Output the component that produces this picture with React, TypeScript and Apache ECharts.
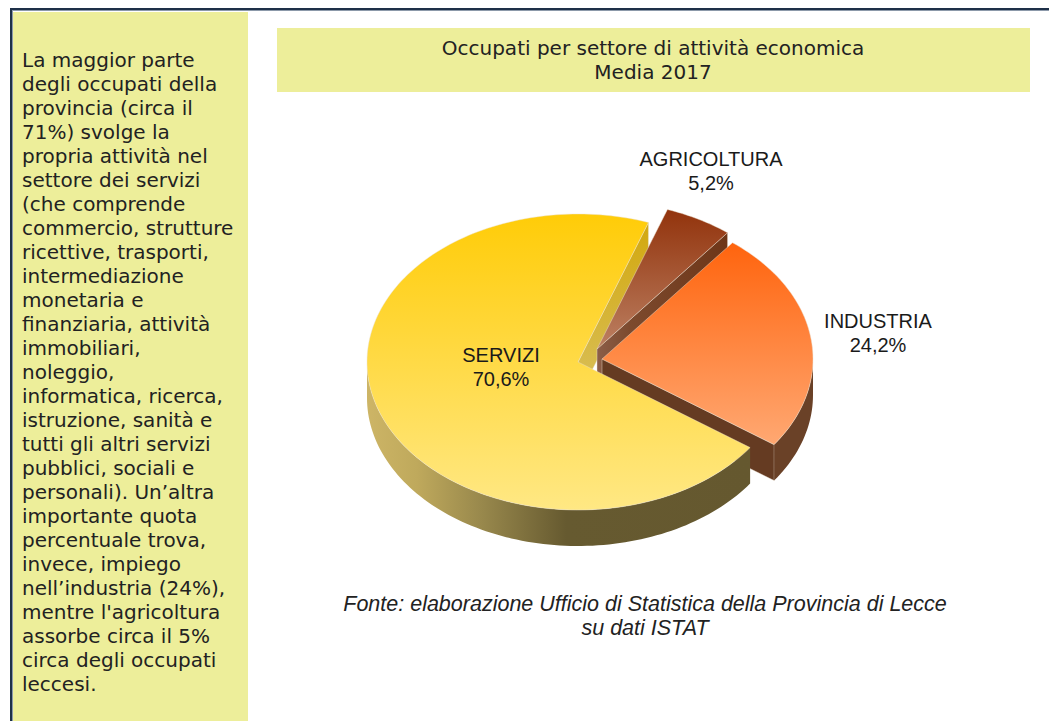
import React, { useEffect, useRef } from "react";
import * as echarts from "echarts";

const categories = ["AGRICOLTURA", "INDUSTRIA", "SERVIZI"];
const shares = [5.2, 24.2, 70.6];
const titleLines = ["Occupati per settore di attività economica", "Media 2017"];
const sourceLines = ["Fonte: elaborazione Ufficio di Statistica della Provincia di Lecce", "su dati ISTAT"];
const sideLines = [
  "La maggior parte", "degli occupati della", "provincia (circa il", "71%) svolge la",
  "propria attività nel", "settore dei servizi", "(che comprende", "commercio, strutture",
  "ricettive, trasporti,", "intermediazione", "monetaria e", "finanziaria, attività",
  "immobiliari,", "noleggio,", "informatica, ricerca,", "istruzione, sanità e",
  "tutti gli altri servizi", "pubblici, sociali e", "personali). Un’altra", "importante quota",
  "percentuale trova,", "invece, impiego", "nell’industria (24%),", "mentre l'agricoltura",
  "assorbe circa il 5%", "circa degli occupati", "leccesi.",
];

const W = 1049, H = 721;
const CX = 578, CY = 362, RX = 211, RY = 148, DEPTH = 36, START = 70.5;
const OFFSETS = [[19, -13], [24, -3], [0, 0]];
const LABEL_POS = [[711, 171], [878, 333], [501, 367]];
const PANEL = "#EDEE9A";
const SIDE_FONT = "DejaVu Sans";
const SANS = "Liberation Sans";

// slices run clockwise from START; angles are parametric on the ellipse
const total = shares.reduce((a, b) => a + b, 0);
const ranges: number[][] = [];
{
  let hi = START;
  shares.forEach((v) => {
    const lo = hi - (v / total) * 360;
    ranges.push([lo, hi]);
    hi = lo;
  });
}
const pt = (i: number, deg: number, dy = 0) => {
  const r = (deg * Math.PI) / 180;
  return [CX + OFFSETS[i][0] + RX * Math.cos(r), CY + OFFSETS[i][1] - RY * Math.sin(r) + dy];
};
const apex = (i: number, dy = 0) => [CX + OFFSETS[i][0], CY + OFFSETS[i][1] + dy];
const arc = (i: number, a: number, b: number, dy = 0) => {
  const n = Math.max(2, Math.ceil(Math.abs(b - a) / 1.5));
  const out: number[][] = [];
  for (let k = 0; k <= n; k++) out.push(pt(i, a + ((b - a) * k) / n, dy));
  return out;
};
const vGrad = (stops: string[]) =>
  new echarts.graphic.LinearGradient(0, 0, 0, 1, stops.map((color, i) => ({ offset: i / (stops.length - 1), color })));
const hGrad = (stops: [number, string][]) =>
  new echarts.graphic.LinearGradient(0, 0, 1, 0, stops.map(([offset, color]) => ({ offset, color })));

const TOP_FILLS = [["#92330C", "#BC8062"], ["#FF640E", "#FFA872"], ["#FFCC08", "#FFE884"]];
const EDGE = "rgba(235,225,210,0.55)";

const topFace = (i: number) => ({
  points: [apex(i), ...arc(i, ranges[i][1], ranges[i][0])],
  fill: vGrad(TOP_FILLS[i]),
  stroke: EDGE,
});
const cutWall = (i: number, deg: number, fill: any) => ({
  points: [apex(i), pt(i, deg), pt(i, deg, DEPTH), apex(i, DEPTH)],
  fill,
  stroke: EDGE,
});
const rimWall = (i: number, a: number, b: number, fill: any) => ({
  points: [...arc(i, a, b), ...arc(i, b, a, DEPTH)],
  fill,
  stroke: "none",
});

// painter's order, back to front
const faces = [
  cutWall(2, ranges[2][0], vGrad(["#D2A80E", "#D9C05C"])),
  cutWall(0, ranges[0][0], hGrad([[0, "#8C5E48"], [0.25, "#7C4A2E"], [1, "#6E3618"]])),
  cutWall(1, ranges[1][0], "#653B22"),
  rimWall(1, ranges[1][0], 0, "#6A4127"),
  rimWall(2, -180, ranges[2][1], hGrad([[0, "#CDB566"], [0.13, "#BFA95C"], [0.3, "#98884C"], [0.52, "#665A30"], [1, "#65582F"]])),
  topFace(2),
  topFace(0),
  topFace(1),
];
const series: any[] = [
  {
    type: "custom",
    coordinateSystem: "none",
    silent: true,
    data: faces.map((_, i) => [i]),
    renderItem: (params: any) => {
      const f = faces[params.dataIndex];
      return {
        type: "polygon",
        shape: { points: f.points },
        style: { fill: f.fill, stroke: f.stroke, lineWidth: f.stroke === "none" ? 0 : 0.8 },
      };
    },
  },
  {
    type: "custom",
    coordinateSystem: "none",
    silent: true,
    z: 5,
    data: categories.map((_, i) => [i]),
    renderItem: (params: any) => {
      const i = params.dataIndex;
      return {
        type: "text",
        x: LABEL_POS[i][0],
        y: LABEL_POS[i][1],
        style: {
          text: `${categories[i]}\n${shares[i].toFixed(1).replace(".", ",")}%`,
          fontFamily: SANS,
          fontSize: 20,
          lineHeight: 24,
          fill: "#1a1a1a",
          align: "center",
          verticalAlign: "middle",
        },
      };
    },
  },
];

const textBlock = (lines: string[], x: number, y: number, style: any) => ({
  type: "text",
  x,
  y,
  style: { text: lines.join("\n"), verticalAlign: "top", fill: "#222", ...style },
});

export default function App() {
  const ref = useRef<HTMLDivElement>(null);
  useEffect(() => {
    document.body.style.margin = "0";
    const chart = echarts.init(ref.current!, undefined, { renderer: "svg" });
    chart.setOption({
      animation: false,
      backgroundColor: "#fff",
      graphic: [
        { type: "rect", shape: { x: 10, y: 8, width: W - 10, height: 2 }, style: { fill: "#1E3048" } },
        { type: "rect", shape: { x: 10, y: 10, width: W - 10, height: 1 }, style: { fill: "#8C99AA" } },
        { type: "rect", shape: { x: 10, y: 8, width: 2, height: H - 8 }, style: { fill: "#1E3048" } },
        { type: "rect", shape: { x: 12, y: 10, width: 1, height: H - 10 }, style: { fill: "#8C99AA" } },
        { type: "rect", shape: { x: 13, y: 12, width: 235, height: H - 12 }, style: { fill: PANEL } },
        { type: "rect", shape: { x: 277, y: 28, width: 753, height: 64 }, style: { fill: PANEL } },
        textBlock(sideLines, 22, 48, { fontFamily: SIDE_FONT, fontSize: 20, lineHeight: 24, align: "left" }),
        textBlock(titleLines, 653, 36, { fontFamily: SIDE_FONT, fontSize: 20, lineHeight: 24, align: "center" }),
        textBlock(sourceLines, 645, 592, { fontFamily: SANS, fontStyle: "italic", fontSize: 21.5, lineHeight: 24, align: "center" }),
      ],
      series,
    });
    return () => chart.dispose();
  }, []);
  return <div ref={ref} style={{ position: "absolute", left: 0, top: 0, width: W, height: H }} />;
}
